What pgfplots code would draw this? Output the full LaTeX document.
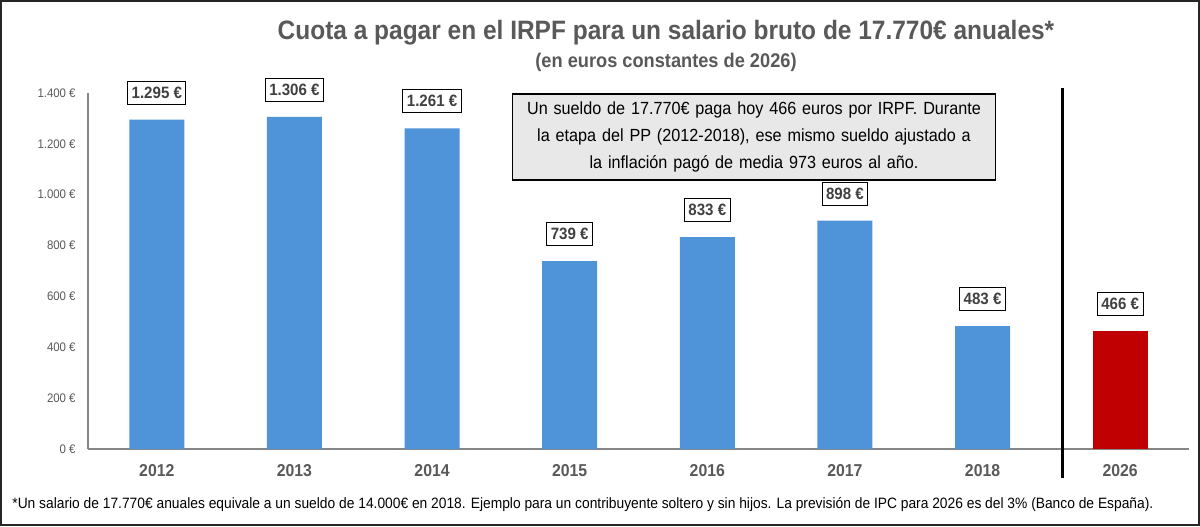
\documentclass[border=0pt]{standalone}
\usepackage{fontspec}
\setmainfont{Liberation Sans}[FakeStretch=0.92]
\usepackage{pgfplots}
\pgfplotsset{compat=1.18}
\definecolor{barblue}{HTML}{4F94D9}
\definecolor{barred}{HTML}{C00000}
\definecolor{txtgray}{HTML}{595959}
\definecolor{lblgray}{HTML}{404040}
\definecolor{axgray}{HTML}{868686}
\definecolor{boxgray}{HTML}{E8E8E8}
\begin{document}
\begin{tikzpicture}[x=1pt,y=1pt]
\useasboundingbox (0,0) rectangle (600,263);
\fill[white] (0,0) rectangle (600,263);
\begin{axis}[
  at={(44pt,38.5pt)}, anchor=south west,
  scale only axis, width=550.5pt, height=178pt,
  xmin=-0.5, xmax=7.5, ymin=0, ymax=1400,
  axis lines=left,
  x axis line style={-, draw=axgray, line width=0.8pt},
  y axis line style={-, draw=axgray, line width=0.6pt},
  ytick={0,200,400,600,800,1000,1200,1400},
  yticklabels={0~€,200~€,400~€,600~€,800~€,1.000~€,1.200~€,1.400~€},
  xtick={0,1,2,3,4,5,6,7},
  xticklabels={2012,2013,2014,2015,2016,2017,2018,2026},
  major tick length=0pt, tick style={draw=none},
  yticklabel style={font=\fontsize{6.2}{7}\selectfont, text=txtgray, anchor=east, inner sep=0pt, xshift=-6pt},
  xticklabel style={font=\bfseries\fontsize{8.6}{10}\selectfont, text=txtgray, anchor=base, inner sep=0pt, yshift=-13.5pt},
  ybar, bar width=27.5pt,
  clip=false,
  nodes near coords,
  point meta=explicit symbolic,
  every node near coord/.style={draw=black, fill=white, line width=0.5pt,
     font=\bfseries\fontsize{8.2}{9}\selectfont, text=lblgray,
     inner xsep=2pt, inner ysep=0pt, minimum height=11.5pt, anchor=south, yshift=7.5pt},
]
\addplot[fill=barblue, draw=none, bar shift=0pt] coordinates {
  (0,1295) [1.295 €]
  (1,1306) [1.306 €]
  (2,1261) [1.261 €]
  (3,739) [739 €]
  (4,833) [833 €]
  (5,898) [898 €]
  (6,483) [483 €]
};
\addplot[fill=barred, draw=none, bar shift=0pt] coordinates {
  (7,466) [466 €]
};
\draw[line width=1.3pt, black] (axis cs:6.58,1420) -- (axis cs:6.58,-114);
\end{axis}
\node[font=\bfseries\fontsize{13.3}{16}\selectfont, text=txtgray] at (333,246.5) {Cuota a pagar en el IRPF para un salario bruto de 17.770€ anuales*};
\node[font=\bfseries\fontsize{9.9}{11}\selectfont, text=txtgray] at (333,232) {(en euros constantes de 2026)};
\node[draw=black, fill=boxgray, line width=0.6pt, minimum width=241.5pt, minimum height=43pt,
      text width=238pt, align=center, inner sep=0pt,
      font=\fontsize{8.8}{13.5}\selectfont, text=black] at (377,194.5)
  {Un sueldo de 17.770€ paga hoy 466 euros por IRPF. Durante\\ la etapa del PP (2012-2018), ese mismo sueldo ajustado a\\ la inflación pagó de media 973 euros al año.};
\node[anchor=west, inner sep=0pt, font=\fontsize{7.5}{9}\selectfont, text=black] at (6,10.5)
  {*Un salario de 17.770€ anuales equivale a un sueldo de 14.000€ en 2018. Ejemplo para un contribuyente soltero y sin hijos. La previsión de IPC para 2026 es del 3\% (Banco de España).};
\draw[line width=1.2pt, black!85] (0.6,0.6) rectangle (599.4,262.4);
\end{tikzpicture}
\end{document}
